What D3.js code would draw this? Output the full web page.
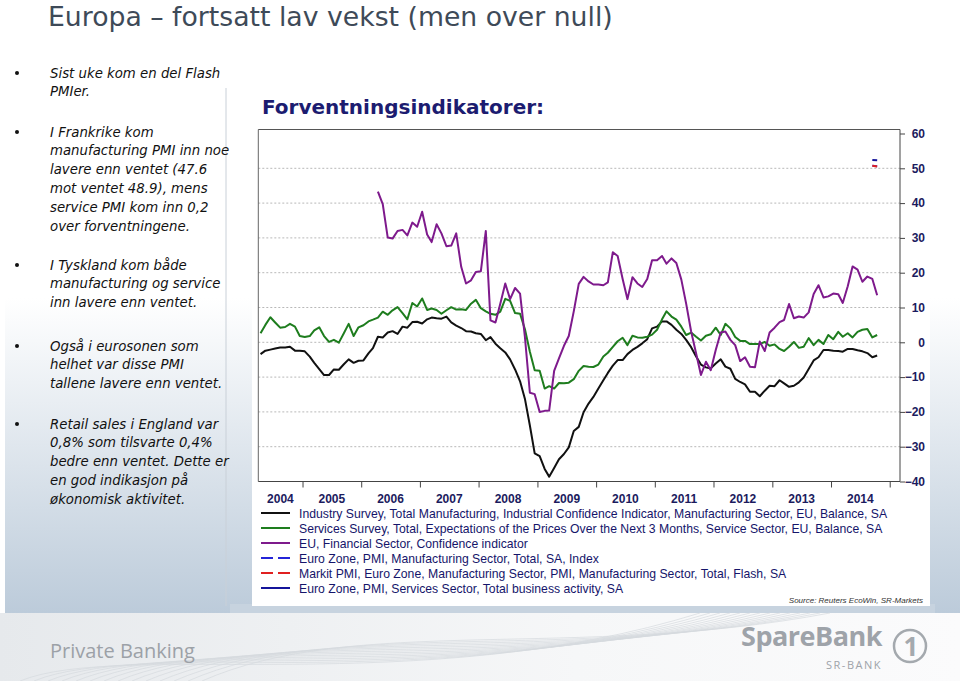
<html>
<head>
<meta charset="utf-8" />
<title>Europa - fortsatt lav vekst</title>
<script src="https://d3js.org/d3.v7.min.js"></script>
<style>
body { margin:0; background:#ffffff; }
svg { display:block; }
</style>
</head>
<body>
<script>

// ---- data ----
var industryStart = "2004-04";
var industry = [-3.4,-2.4,-2.1,-1.8,-1.5,-1.5,-1.3,-2.4,-2.4,-2.6,-4.1,-5.9,-7.7,-9.4,-9.4,-7.8,-7.9,-6.3,-4.9,-5.9,
	-5.3,-5.2,-3.2,-1.7,1.6,1.4,2.8,3.2,2.4,4.5,4.2,5.8,5.9,5.4,
	6.6,7.1,6.9,6.8,7.4,5.7,4.8,4.1,3.2,3.1,2.6,2.4,0.6,1.5,-0.4,-1.7,-2.9,-4.9,-7.8,-11.2,
	-16.2,-23.9,-31.9,-32.7,-36.4,-38.6,-36.1,-33.6,-32.1,-30.2,-25.5,-24.3,-20.1,
	-17.6,-15.7,-13.3,-10.9,-8.8,-6.7,-5.1,-5.1,-3.4,-2.2,-1.3,-0.3,0.9,4.0,4.5,6.0,6.0,5.0,3.6,2.4,
	0.7,-1.4,-4.1,-6.4,-7.2,-7.5,-6.1,-4.9,-7.0,-7.6,-10.5,-11.4,
	-12.1,-14.2,-14.2,-15.5,-13.9,-12.5,-12.6,-10.9,-11.8,-12.8,-12.5,-11.5,-10.1,-7.7,-5.2,-4.3,
	-2.2,-2.2,-2.4,-2.5,-2.7,-1.9,-1.9,-2.3,-2.6,-3.1,-4.3,-3.8];

var servicesStart = "2004-04";
var servicesPrices = [2.6,5.0,7.2,5.7,4.2,4.4,5.3,4.5,1.8,1.5,1.8,3.4,4.3,1.8,0.1,0.7,-0.1,2.6,5.3,1.8,
	4.3,4.9,6.0,6.5,7.1,8.8,7.9,9.2,10.1,8.4,6.6,11.3,10.3,12.6,
	9.3,9.7,9.3,8.2,9.2,10.1,9.4,9.5,9.3,11.1,12.2,9.8,8.9,8.2,7.9,8.8,12.5,11.9,8.4,8.2,
	3.8,-2.7,-8.0,-8.2,-13.3,-12.6,-13.3,-11.7,-11.8,-11.6,-10.6,-8.2,-6.8,
	-7.0,-7.1,-6.4,-4.1,-3.0,-1.3,0.3,1.3,-0.8,1.9,1.4,1.3,1.6,2.2,3.6,6.6,8.9,7.4,6.5,4.5,
	2.1,2.8,1.6,0.5,1.9,2.3,4.2,2.1,5.3,4.0,1.5,0.4,
	0.4,-0.5,-0.5,-0.5,0.1,-1.0,-0.6,-1.9,-2.5,-1.3,0.1,-1.6,-1.3,1.2,-0.8,0.7,
	-0.5,2.1,0.9,3.0,1.6,2.6,1.4,3.0,3.6,3.8,1.4,2.1];

var financialStart = "2006-04";
var financial = [43.3,39.7,30.1,29.8,32.0,32.3,30.7,34.4,33.2,37.5,
	31.0,28.8,33.9,31.3,27.6,27.8,31.3,21.7,16.9,17.8,20.2,20.4,32.0,6.3,5.7,11.1,16.9,12.4,15.6,14.0,
	1.6,-14.5,-14.9,-20.0,-19.7,-19.6,-8.2,-4.6,-1.0,1.8,8.9,16.8,18.8,
	17.5,16.6,16.6,16.4,17.2,25.9,24.8,18.2,12.4,18.7,16.9,15.9,18.2,23.6,23.6,24.8,22.6,24.1,22.8,18.0,
	11.1,3.1,-3.2,-9.4,-5.6,-8.0,-2.2,2.8,3.1,0.7,-0.8,-5.4,
	-4.3,-7.0,-7.2,0.2,-2.5,2.8,4.2,5.8,6.4,11.0,6.9,7.4,7.1,8.6,13.9,16.4,
	12.9,13.2,14.0,13.8,11.3,16.1,21.8,20.9,17.4,18.9,18.2,13.5];

var pmiStart = "2014-09";
var pmiManufacturing = [50.7,50.6];
var pmiFlash = [50.7,50.5];
var pmiServices = [52.4,52.3];

var years = [2004,2005,2006,2007,2008,2009,2010,2011,2012,2013,2014];
var yTicks = [-40,-30,-20,-10,0,10,20,30,40,50,60];

var seriesNames = [
	"Industry Survey, Total Manufacturing, Industrial Confidence Indicator, Manufacturing Sector, EU, Balance, SA",
	"Services Survey, Total, Expectations of the Prices Over the Next 3 Months, Service Sector, EU, Balance, SA",
	"EU, Financial Sector, Confidence indicator",
	"Euro Zone, PMI, Manufacturing Sector, Total, SA, Index",
	"Markit PMI, Euro Zone, Manufacturing Sector, PMI, Manufacturing Sector, Total, Flash, SA",
	"Euro Zone, PMI, Services Sector, Total business activity, SA"
];
var seriesColors = ["#111111","#1e7d1e","#7e1a8c","#2424d8","#e02020","#14149a"];
var seriesDash = [null,null,null,"12,5","12,5",null];

var bullets = [
	["Sist uke kom en del Flash","PMIer."],
	["I Frankrike kom","manufacturing PMI inn noe","lavere enn ventet (47.6","mot ventet 48.9), mens","service PMI kom inn 0,2","over forventningene."],
	["I Tyskland kom både","manufacturing og service","inn lavere enn ventet."],
	["Også i eurosonen som","helhet var disse PMI","tallene lavere enn ventet."],
	["Retail sales i England var","0,8% som tilsvarte 0,4%","bedre enn ventet. Dette er","en god indikasjon på","økonomisk aktivitet."]
];
var bulletTop = [73,132,265,346,424];

// ---- helpers ----
var monthParse = d3.timeParse("%Y-%m");
var toPoints = function(start, values) {
	var m0 = monthParse(start);
	return values.map(function(v, i) {
		// plotted at mid month
		return {date: d3.timeDay.offset(d3.timeMonth.offset(m0, i), 14), value: v};
	});
};

var W = 960, H = 681;
var svg = d3.select("body").append("svg")
	.attr("width", W).attr("height", H)
	.attr("xmlns","http://www.w3.org/2000/svg");

var defs = svg.append("defs");
var g1 = defs.append("linearGradient").attr("id","panelGrad").attr("x1",0).attr("y1",0).attr("x2",0).attr("y2",1);
g1.append("stop").attr("offset","0%").attr("stop-color","#ffffff");
g1.append("stop").attr("offset","45%").attr("stop-color","#ffffff");
g1.append("stop").attr("offset","100%").attr("stop-color","#bccbda");
var g2 = defs.append("linearGradient").attr("id","footGrad").attr("x1",0).attr("y1",0).attr("x2",1).attr("y2",0);
g2.append("stop").attr("offset","0%").attr("stop-color","#e6e9ec");
g2.append("stop").attr("offset","60%").attr("stop-color","#f6f7f8");
g2.append("stop").attr("offset","100%").attr("stop-color","#fbfbfc");

// ---- page background ----
svg.append("rect").attr("x",5).attr("y",40).attr("width",250).attr("height",573).attr("fill","url(#panelGrad)");
svg.append("rect").attr("x",928).attr("y",40).attr("width",32).attr("height",573).attr("fill","url(#panelGrad)");
svg.append("rect").attr("x",230).attr("y",604).attr("width",705).attr("height",9).attr("fill","#c7d3df");
svg.append("rect").attr("x",252).attr("y",40).attr("width",678).attr("height",566).attr("fill","#ffffff");
svg.append("line").attr("x1",226).attr("x2",226).attr("y1",88).attr("y2",606)
	.attr("stroke","#c9d0d8").attr("stroke-width",1);

// footer band
svg.append("rect").attr("x",0).attr("y",613).attr("width",W).attr("height",68).attr("fill","url(#footGrad)");
var waves = svg.append("g").attr("fill","none").attr("stroke","#d6dade").attr("stroke-width",0.7);
d3.range(14).forEach(function(i) {
	var p = d3.path();
	p.moveTo(20 + i*14, 681);
	p.bezierCurveTo(120 + i*18, 640 - i*2, 420 + i*12, 700 - i*3, 700 + i*10, 613);
	waves.append("path").attr("d", p.toString());
});
svg.append("text").attr("x",50).attr("y",658)
	.attr("font-family","'Open Sans', sans-serif").attr("font-size",20)
	.attr("fill","#9ca1a7").text("Private Banking");
svg.append("text").attr("x",882).attr("y",646).attr("text-anchor","end")
	.attr("font-family","'Open Sans', sans-serif").attr("font-weight","bold").attr("font-size",27)
	.attr("letter-spacing","-0.5").attr("fill","#9ea3a9").text("SpareBank");
svg.append("text").attr("x",882).attr("y",669).attr("text-anchor","end")
	.attr("font-family","'Open Sans', sans-serif").attr("font-size",11)
	.attr("letter-spacing","1.5").attr("fill","#9ea3a9").text("SR-BANK");
svg.append("circle").attr("cx",910).attr("cy",646).attr("r",16)
	.attr("fill","none").attr("stroke","#a4a9ae").attr("stroke-width",2.5);
svg.append("text").attr("x",911).attr("y",656).attr("text-anchor","middle")
	.attr("font-family","'Open Sans', sans-serif").attr("font-weight","bold").attr("font-size",26)
	.attr("fill","#a4a9ae").text("1");

// ---- titles and bullet text ----
svg.append("text").attr("x",48).attr("y",25.5)
	.attr("font-family","'DejaVu Sans', Verdana, sans-serif").attr("font-size",26.7)
	.attr("fill","#3e4a58").text("Europa – fortsatt lav vekst (men over null)");

bullets.forEach(function(lines, b) {
	svg.append("circle").attr("cx",17).attr("cy",bulletTop[b]).attr("r",2).attr("fill","#111");
	lines.forEach(function(t, i) {
		svg.append("text").attr("x",50).attr("y",bulletTop[b] + 4.5 + i*18.8)
			.attr("font-family","'DejaVu Sans', Verdana, sans-serif").attr("font-style","italic")
			.attr("font-size",13.3).attr("fill","#111").text(t);
	});
});

svg.append("text").attr("x",262).attr("y",114)
	.attr("font-family","'DejaVu Sans', Verdana, sans-serif").attr("font-weight","bold").attr("font-size",20)
	.attr("fill","#1c1c70").text("Forventningsindikatorer:");

// ---- chart ----
var plot = {left:258.3, right:900, top:129.5, bottom:481.5};
var xScale = d3.scaleTime()
	.domain([new Date(2004,3,1), new Date(2015,2,6)])
	.range([plot.left, plot.right]);
var yScale = d3.scaleLinear().domain([-40,60]).range([481.5,133.5]);

// dotted grid
svg.append("g").selectAll("line").data(yTicks.filter(function(v){ return v>-40 && v<60; }))
	.enter().append("line")
	.attr("x1",plot.left).attr("x2",plot.right)
	.attr("y1",function(d){ return yScale(d); }).attr("y2",function(d){ return yScale(d); })
	.attr("stroke","#b8b8b8").attr("stroke-width",1).attr("stroke-dasharray","2,2");

// frame
svg.append("line").attr("x1",plot.left).attr("x2",plot.left).attr("y1",plot.top).attr("y2",plot.bottom)
	.attr("stroke","#666").attr("stroke-width",1);
svg.append("line").attr("x1",plot.left).attr("x2",plot.right).attr("y1",plot.top).attr("y2",plot.top)
	.attr("stroke","#555").attr("stroke-width",1);

var axisFont = "'Liberation Sans', Arial, sans-serif";

var yAxis = svg.append("g").attr("transform","translate(" + plot.right + ",0)")
	.call(d3.axisRight(yScale).tickValues(yTicks).tickSize(5).tickFormat(d3.format("d")));
yAxis.select(".domain").attr("d","M0," + plot.top + "V" + plot.bottom).attr("stroke","#444");
yAxis.selectAll(".tick line").attr("stroke","#444");
yAxis.selectAll(".tick text").attr("x",25).attr("text-anchor","end")
	.attr("font-family",axisFont).attr("font-weight","bold").attr("font-size",12).attr("fill","#1b1b5e");

var yearTicks = years.slice(1).map(function(y){ return new Date(y,0,1); }).concat([new Date(2015,0,1)]);
var xAxis = svg.append("g").attr("transform","translate(0," + plot.bottom + ")")
	.call(d3.axisBottom(xScale).tickValues(yearTicks).tickSize(6).tickFormat(""));
xAxis.select(".domain").attr("d","M" + plot.left + ",0H" + plot.right).attr("stroke","#444");
xAxis.selectAll(".tick line").attr("stroke","#444");

svg.append("g").selectAll("text").data(years).enter().append("text")
	.attr("x", function(y) {
		var a = Math.max(xScale(new Date(y,0,1)), plot.left);
		var b = Math.min(xScale(new Date(y+1,0,1)), plot.right);
		return (a + b) / 2;
	})
	.attr("y",503).attr("text-anchor","middle")
	.attr("font-family",axisFont).attr("font-weight","bold").attr("font-size",12).attr("fill","#1b1b5e")
	.text(function(y){ return y; });

var line = d3.line()
	.x(function(d){ return xScale(d.date); })
	.y(function(d){ return yScale(d.value); });

var series = [
	toPoints(industryStart, industry),
	toPoints(servicesStart, servicesPrices),
	toPoints(financialStart, financial),
	toPoints(pmiStart, pmiManufacturing),
	toPoints(pmiStart, pmiFlash),
	toPoints(pmiStart, pmiServices)
];
// draw order: services pmi, manufacturing, flash, then the surveys
[5,3,4,0,1,2].forEach(function(i) {
	svg.append("path").datum(series[i])
		.attr("d", line)
		.attr("fill","none")
		.attr("stroke", seriesColors[i])
		.attr("stroke-width", 2)
		.attr("stroke-linejoin","round");
});

// ---- legend ----
var legend = svg.append("g");
seriesNames.forEach(function(name, i) {
	var yy = 513 + i*15;
	legend.append("line").attr("x1",261).attr("x2",290).attr("y1",yy).attr("y2",yy)
		.attr("stroke",seriesColors[i]).attr("stroke-width",2)
		.attr("stroke-dasharray",seriesDash[i]);
	// narrow face is not installed, so squeeze the regular one a little
	legend.append("text")
		.attr("transform","translate(299," + (yy + 4.5) + ") scale(0.94,1)")
		.attr("font-family","'Liberation Sans', Arial, sans-serif")
		.attr("font-size",13).attr("fill","#15156a").text(name);
});

svg.append("text").attr("x",923).attr("y",603).attr("text-anchor","end")
	.attr("font-family","'Liberation Sans', Arial, sans-serif").attr("font-style","italic")
	.attr("font-size",8).attr("fill","#333").text("Source: Reuters EcoWin, SR-Markets");

</script>
</body>
</html>
